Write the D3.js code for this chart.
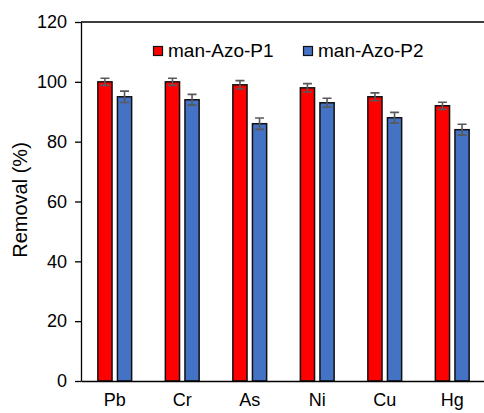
<!DOCTYPE html>
<html>
<head>
<meta charset="utf-8">
<script src="https://cdn.jsdelivr.net/npm/d3@7"></script>
<style>
  html, body { margin: 0; padding: 0; background: #fff; }
  svg { display: block; font-family: "Liberation Sans", Arial, sans-serif; }
</style>
</head>
<body>
<svg id="chart" width="484" height="413"></svg>
<script>
// Removal efficiency of heavy metals by the two polymers
const categories = ["Pb", "Cr", "As", "Ni", "Cu", "Hg"];
const seriesNames = ["man-Azo-P1", "man-Azo-P2"];
const p1Values = [100, 100, 99, 98, 95, 92];
const p2Values = [95, 94, 86, 93, 88, 84];
const p1Errors = [1.2, 1.2, 1.4, 1.4, 1.3, 1.2];
const p2Errors = [1.9, 1.8, 1.9, 1.5, 1.8, 1.8];
const yTicks = [0, 20, 40, 60, 80, 100, 120];
const colors = ["#ff0000", "#4472c4"];

const svg = d3.select("#chart");
const margin = { left: 81, top: 22, right: -2, bottom: 32 };
const W = 484, H = 413;
const plotRight = W - margin.right;
const plotBottom = H - margin.bottom;

const x = d3.scaleBand().domain(categories).range([margin.left, plotRight]).padding(0);
const x1 = d3.scaleBand().domain(seriesNames).range([0, x.bandwidth()])
  .paddingInner(0.276).paddingOuter(0.86);
const y = d3.scaleLinear().domain([0, 120]).range([plotBottom, margin.top]);

const rows = categories.map((c, i) => ({
  cat: c,
  items: [
    { s: seriesNames[0], v: p1Values[i], e: p1Errors[i], color: colors[0] },
    { s: seriesNames[1], v: p2Values[i], e: p2Errors[i], color: colors[1] }
  ]
}));

// frame: top and right borders of the plot box
svg.append("path")
  .attr("d", `M${margin.left},${margin.top}H${plotRight}V${plotBottom}`)
  .attr("fill", "none").attr("stroke", "#000").attr("stroke-width", 1.3);

// bars
const groups = svg.append("g").selectAll("g").data(rows).join("g")
  .attr("transform", d => `translate(${x(d.cat)},0)`);

groups.selectAll("rect").data(d => d.items).join("rect")
  .attr("x", d => x1(d.s))
  .attr("y", d => y(d.v))
  .attr("width", x1.bandwidth())
  .attr("height", d => y(0) - y(d.v))
  .attr("fill", d => d.color)
  .attr("stroke", "#111")
  .attr("stroke-width", 1.5);

// error bars
const capHalf = 4.5;
const eb = groups.selectAll("g.err").data(d => d.items).join("g").attr("class", "err")
  .attr("stroke", "#595959").attr("stroke-width", 1.6).attr("fill", "none");
eb.append("path")
  .attr("d", d => {
    const cx = x1(d.s) + x1.bandwidth() / 2;
    const t = y(d.v + d.e), b = y(d.v - d.e);
    return `M${cx},${t}V${b}M${cx - capHalf},${t}H${cx + capHalf}M${cx - capHalf},${b}H${cx + capHalf}`;
  });

// y axis
const yAxis = svg.append("g")
  .attr("transform", `translate(${margin.left},0)`)
  .call(d3.axisLeft(y).tickValues(yTicks).tickSize(6).tickPadding(8).tickSizeOuter(0));
yAxis.select(".domain").attr("stroke", "#000").attr("stroke-width", 1.3);
yAxis.selectAll(".tick line").attr("stroke", "#000").attr("stroke-width", 1.3);
yAxis.selectAll(".tick text").attr("font-size", 18).attr("fill", "#000")
  .attr("font-family", "Liberation Sans, Arial, sans-serif");

// x axis
const xAxis = svg.append("g")
  .attr("transform", `translate(0,${plotBottom})`)
  .call(d3.axisBottom(x).tickSize(0).tickPadding(12).tickSizeOuter(0));
xAxis.select(".domain").attr("stroke", "#000").attr("stroke-width", 1.3);
xAxis.selectAll(".tick text").attr("font-size", 18).attr("fill", "#000")
  .attr("font-family", "Liberation Sans, Arial, sans-serif");

// y axis title
svg.append("text")
  .attr("transform", `translate(27,200) rotate(-90)`)
  .attr("text-anchor", "middle")
  .attr("font-size", 20).attr("fill", "#000")
  .text("Removal (%)");

// legend
const legendX = [153, 303];
const legend = svg.append("g").selectAll("g").data(seriesNames).join("g")
  .attr("transform", (d, i) => `translate(${legendX[i]},46)`);
legend.append("rect")
  .attr("x", 0.5).attr("y", 0.5).attr("width", 9).attr("height", 9)
  .attr("fill", (d, i) => colors[i]).attr("stroke", "#111").attr("stroke-width", 1.2);
legend.append("text")
  .attr("x", 15).attr("y", 10.5)
  .attr("font-size", 19).attr("fill", "#000")
  .text(d => d);
</script>
</body>
</html>
